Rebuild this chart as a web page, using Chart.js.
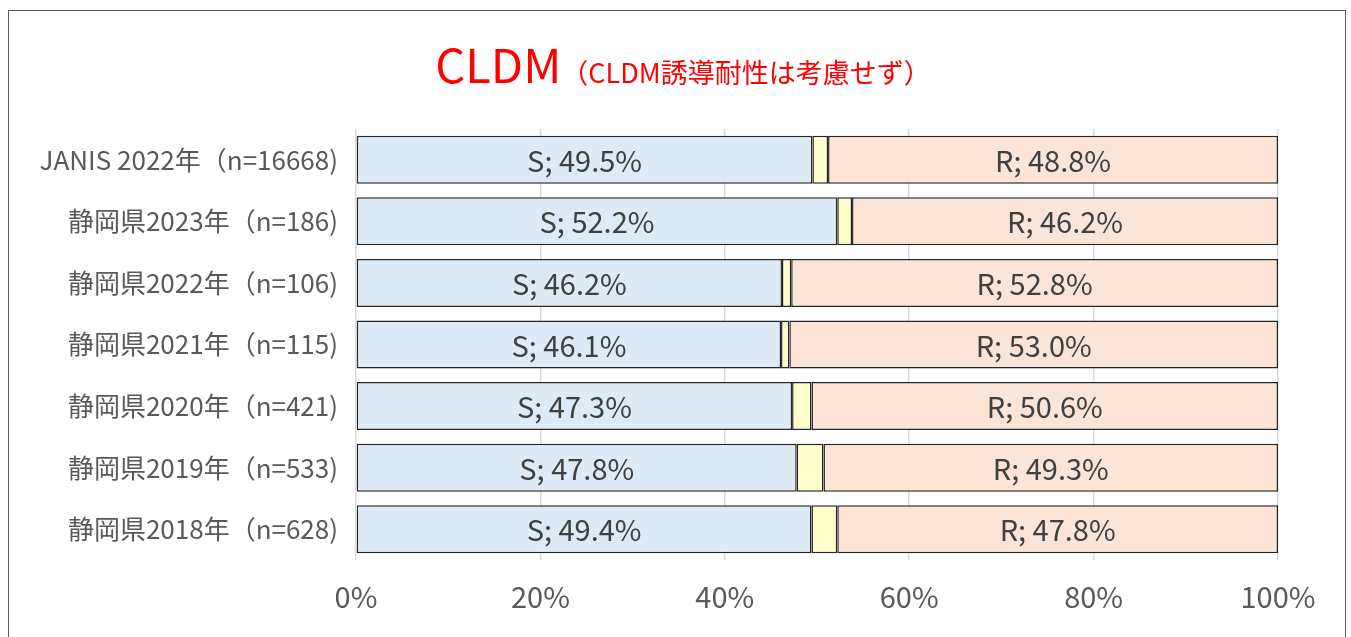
<!DOCTYPE html>
<html><head><meta charset="utf-8">
<script src="https://cdn.jsdelivr.net/npm/chart.js@4/dist/chart.umd.min.js"></script>
<style>
html,body{margin:0;padding:0;background:#fff;overflow:hidden}
#wrap{position:absolute;left:0;top:0;width:1351px;height:637px}
#frame{position:absolute;left:8px;top:10px;width:1338px;height:640px;border:1.5px solid #595959;box-sizing:border-box}
canvas{position:absolute;left:0;top:0}
</style></head><body>
<div id="wrap"><div id="frame"></div><canvas id="c" width="1351" height="637"></canvas></div>
<script>
const categories = ["JANIS 2022年（n=16668)","静岡県2023年（n=186)","静岡県2022年（n=106)","静岡県2021年（n=115)","静岡県2020年（n=421)","静岡県2019年（n=533)","静岡県2018年（n=628)"];
const sValues = [49.5, 52.2, 46.2, 46.1, 47.3, 47.8, 49.4];
const iValues = [1.7, 1.6, 1.0, 0.9, 2.1, 2.9, 2.8];
const rValues = [48.8, 46.2, 52.8, 53.0, 50.6, 49.3, 47.8];
const xTicks = [0, 20, 40, 60, 80, 100];
const titleMain = "CLDM";
const titleSub = "（CLDM誘導耐性は考慮せず）";
const FONT = "'Noto Sans CJK JP','Noto Sans',sans-serif";

const titlePlugin = {
  id:'mixedTitle',
  afterDraw(chart){
    const ctx = chart.ctx;
    ctx.save();
    ctx.fillStyle = '#FF0000';
    ctx.textBaseline = 'alphabetic';
    ctx.font = "47px " + FONT;
    const w1 = ctx.measureText(titleMain).width;
    ctx.font = "27px " + FONT;
    const w2 = ctx.measureText(titleSub).width;
    const x0 = 683 - (w1 + w2) / 2;
    ctx.font = "47px " + FONT;
    ctx.fillText(titleMain, x0, 83);
    ctx.font = "27px " + FONT;
    ctx.fillText(titleSub, x0 + w1, 83);
    ctx.restore();
  }
};
const labelPlugin = {
  id:'segLabels',
  afterDatasetsDraw(chart){
    const ctx = chart.ctx;
    ctx.save();
    ctx.font = "29px " + FONT;
    ctx.fillStyle = '#404040';
    ctx.textAlign = 'center';
    ctx.textBaseline = 'middle';
    [[0,'S',sValues],[2,'R',rValues]].forEach(([di,name,vals])=>{
      chart.getDatasetMeta(di).data.forEach((bar,i)=>{
        const x = (bar.x + bar.base) / 2;
        ctx.fillText(name + "; " + vals[i].toFixed(1) + "%", x, bar.y + 1);
      });
    });
    ctx.restore();
  }
};

new Chart(document.getElementById('c'), {
  type:'bar',
  data:{
    labels: categories,
    datasets:[
      {label:'S', data:sValues, backgroundColor:'#DEEBF7'},
      {label:'I', data:iValues, backgroundColor:'#FFFFCC'},
      {label:'R', data:rValues, backgroundColor:'#FCE4D6'}
    ].map(d=>Object.assign(d,{borderColor:'#262626',borderWidth:1.5,borderSkipped:false,categoryPercentage:1,barPercentage:0.78}))
  },
  options:{
    indexAxis:'y',
    responsive:false,
    animation:false,
    devicePixelRatio:1,
    layout:{padding:{top:129,right:73,left:0,bottom:0}},
    plugins:{legend:{display:false},tooltip:{enabled:false},title:{display:false}},
    scales:{
      x:{
        stacked:true, min:0, max:100,
        afterBuildTicks(scale){ scale.ticks = xTicks.map(v=>({value:v})); },
        afterFit(scale){ scale.height = 77; },
        grid:{color:'#D9D9D9',lineWidth:1.5,drawTicks:false},
        border:{display:false},
        ticks:{padding:20,color:'#595959',font:{family:FONT,size:29},callback:v=>v+'%'}
      },
      y:{
        stacked:true,
        afterFit(scale){ scale.width = 356; },
        grid:{display:false,drawTicks:false},
        border:{display:false},
        ticks:{padding:18,color:'#595959',font:{family:FONT,size:26}}
      }
    }
  },
  plugins:[titlePlugin,labelPlugin]
});
</script></body></html>
